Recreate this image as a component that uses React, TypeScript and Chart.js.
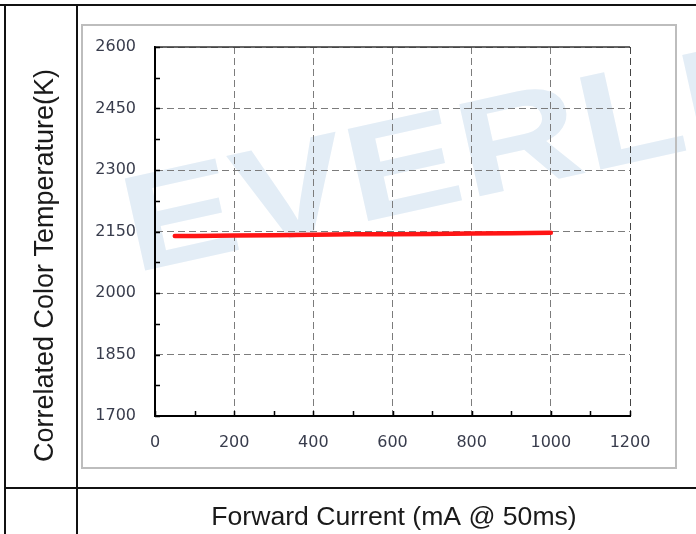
import { useEffect, useRef } from 'react';
import { Chart, registerables } from 'chart.js';

Chart.register(...registerables);

// ---- data ----
const currentMA = [50, 100, 200, 300, 400, 500, 600, 700, 800, 900, 1000];
const cctK = [2139, 2139, 2140, 2141, 2142, 2143, 2143, 2144, 2145, 2146, 2147];

const xMin = 0;
const xMax = 1200;
const xStep = 200;
const xMinorStep = 100;
const yMin = 1700;
const yMax = 2600;
const yStep = 150;
const yMinorStep = 75;

const yTitle = 'Correlated Color Temperature(K)';
const xTitle = 'Forward Current (mA @ 50ms)';
const watermark = 'EVERLIGHT';

const W = 696;
const H = 534;

const framePlugin = {
  id: 'frame',
  beforeDraw(chart: any) {
    const ctx = chart.ctx as CanvasRenderingContext2D;
    ctx.save();
    ctx.fillStyle = '#ffffff';
    ctx.fillRect(0, 0, W, H);

    // watermark
    ctx.save();
    ctx.translate(134, 273);
    ctx.rotate((-12.5 * Math.PI) / 180);
    ctx.scale(1.25, 1);
    ctx.font = 'bold 137px "Liberation Sans"';
    ctx.fillStyle = '#e3edf6';
    ctx.textBaseline = 'alphabetic';
    ctx.textAlign = 'left';
    ctx.fillText(watermark, 0, 0);
    ctx.restore();

    // inner picture border
    ctx.strokeStyle = '#bdbdbd';
    ctx.lineWidth = 2;
    ctx.strokeRect(82, 25, 594, 443);

    // table lines
    ctx.fillStyle = '#111111';
    ctx.fillRect(0, 4, W, 2);
    ctx.fillRect(4, 4, 2, H - 4);
    ctx.fillRect(76, 4, 2, H - 4);
    ctx.fillRect(4, 487, W - 4, 2);
    ctx.restore();
  },
  afterDraw(chart: any) {
    const ctx = chart.ctx as CanvasRenderingContext2D;
    const { left, right, top, bottom } = chart.chartArea;
    const xs = chart.scales.x;
    const ys = chart.scales.y;
    ctx.save();
    // top border
    ctx.strokeStyle = '#333333';
    ctx.lineWidth = 1.5;
    ctx.beginPath();
    ctx.moveTo(left, top);
    ctx.lineTo(right, top);
    ctx.stroke();

    // minor ticks (inward)
    ctx.strokeStyle = '#000000';
    ctx.lineWidth = 1.5;
    ctx.beginPath();
    for (let v = xMin; v <= xMax; v += xMinorStep) {
      const px = Math.round(xs.getPixelForValue(v)) + 0.5;
      ctx.moveTo(px, bottom);
      ctx.lineTo(px, bottom - 5);
    }
    for (let v = yMin; v <= yMax; v += yMinorStep) {
      const py = Math.round(ys.getPixelForValue(v)) + 0.5;
      ctx.moveTo(left, py);
      ctx.lineTo(left + 5, py);
    }
    ctx.stroke();

    // titles
    ctx.fillStyle = '#1a1a1a';
    ctx.textBaseline = 'alphabetic';
    ctx.textAlign = 'center';
    ctx.font = '26.6px "Liberation Sans"';
    ctx.fillText(xTitle, 394, 525);

    ctx.save();
    ctx.translate(53, 265.5);
    ctx.rotate(-Math.PI / 2);
    ctx.font = '27px "Liberation Sans"';
    ctx.fillText(yTitle, 0, 0);
    ctx.restore();

    ctx.restore();
  },
};

export default function App() {
  const ref = useRef<HTMLCanvasElement | null>(null);

  useEffect(() => {
    if (!ref.current) return;
    const tickFont = { family: '"DejaVu Sans"', size: 16 };
    const plain = (v: any) => String(v);
    const gridColor = (c: any) =>
      c.tick && c.tick.value === xMax ? '#444444' : '#7c7c7c';
    const chart = new Chart(ref.current, {
      type: 'line',
      data: {
        datasets: [
          {
            data: currentMA.map((x, i) => ({ x, y: cctK[i] })),
            borderColor: '#ff1414',
            borderWidth: 4.5,
            pointRadius: 0,
            tension: 0,
            borderCapStyle: 'round',
            fill: false,
          },
        ],
      },
      options: {
        animation: false,
        responsive: false,
        devicePixelRatio: 1,
        layout: { padding: { left: 95, right: 66, top: 47, bottom: 78 } },
        plugins: {
          legend: { display: false },
          tooltip: { enabled: false },
        },
        scales: {
          x: {
            type: 'linear',
            min: xMin,
            max: xMax,
            afterFit: (s: any) => {
              s.height = 40;
            },
            ticks: {
              stepSize: xStep,
              padding: 17,
              color: '#383c4c',
              font: tickFont,
              maxRotation: 0,
              callback: plain,
            },
            grid: { color: gridColor, lineWidth: 1, drawTicks: false },
            border: { color: '#000000', width: 2, dash: [7, 4] },
          },
          y: {
            type: 'linear',
            min: yMin,
            max: yMax,
            afterFit: (s: any) => {
              s.width = 60;
            },
            ticks: {
              stepSize: yStep,
              padding: 19,
              color: '#383c4c',
              font: tickFont,
              callback: plain,
            },
            grid: { color: '#7c7c7c', lineWidth: 1, drawTicks: false },
            border: { color: '#000000', width: 2, dash: [7, 4] },
          },
        },
      },
      plugins: [framePlugin],
    } as any);
    return () => chart.destroy();
  }, []);

  return (
    <div
      style={{
        position: 'fixed',
        left: 0,
        top: 0,
        width: W,
        height: H,
        background: '#ffffff',
      }}
    >
      <canvas ref={ref} width={W} height={H} style={{ display: 'block' }} />
    </div>
  );
}
